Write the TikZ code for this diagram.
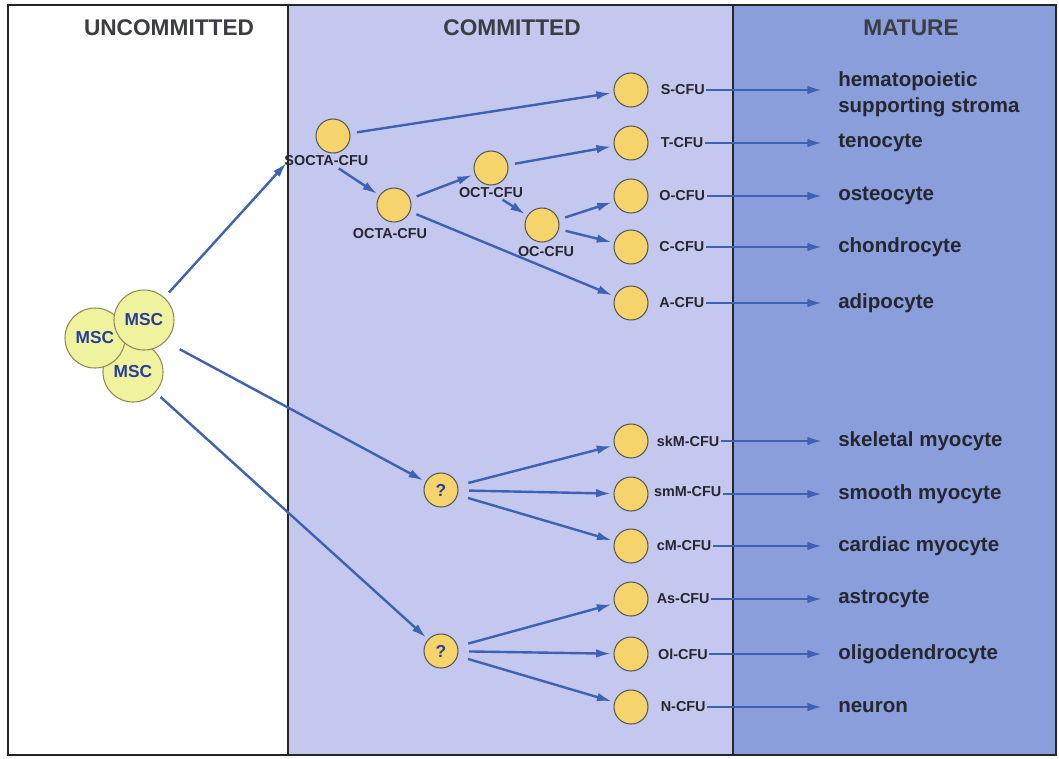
\documentclass[tikz,border=0pt]{standalone}
\usepackage{fontspec}
\setmainfont{Liberation Sans}
\usetikzlibrary{arrows.meta,positioning}
\definecolor{commitbg}{HTML}{C4C8EE}
\definecolor{maturebg}{HTML}{8A9EDC}
\definecolor{cellfill}{HTML}{F6D46C}
\definecolor{mscfill}{HTML}{EFF39E}
\definecolor{flowblue}{HTML}{3D62B4}
\definecolor{inkgray}{HTML}{26262F}
\definecolor{mscblue}{HTML}{2A3D9C}
\tikzset{>=latex}
\tikzset{
  cell/.style={circle, draw=gray!70!black, fill=cellfill, line width=0.8pt, minimum size=25.5pt, inner sep=0pt},
  msc/.style={circle, draw=gray!60!olive, fill=mscfill, line width=0.8pt, minimum size=45pt, inner sep=0pt,
    text=mscblue, font=\bfseries\fontsize{13}{13}\selectfont},
  cfu/.style={font=\bfseries\fontsize{10.8}{11}\selectfont, text=inkgray, inner sep=1pt, anchor=west},
  fate/.style={font=\bfseries\fontsize{15.4}{19.5}\selectfont, text=inkgray, inner sep=0pt, anchor=west, align=left},
  head/.style={font=\bfseries\fontsize{17}{17}\selectfont, text=inkgray!90},
  flow/.style={draw=flowblue, line width=1.8pt, -{Latex[length=11pt,width=6.5pt]}, shorten <=5pt, shorten >=2pt},
  fatelink/.style={flow, shorten <=0pt, shorten >=12pt},
}

\begin{document}
\begin{tikzpicture}[x=0.75pt,y=-0.75pt]
    \useasboundingbox (0,0) rectangle (1059,758);
    % panels
    \fill[white] (0,0) rectangle (1059,758);
    \fill[commitbg] (288,5) rectangle (733,755);
    \fill[maturebg] (733,5) rectangle (1056,755);
    \draw[line width=1.2pt, gray!30!black] (8,5) rectangle (1056,755);
    \draw[line width=1.2pt, gray!30!black] (288,5) -- (288,755);
    \draw[line width=1.2pt, gray!30!black] (733,5) -- (733,755);
    \node[head] (hU) at (169,28) {UNCOMMITTED};
    \node[head] (hC) at (512,28) {COMMITTED};
    \node[head] (hM) at (911,28) {MATURE};

    % stem cells
    \node[msc] (M3) at (133,372) {MSC};
    \node[msc] (M1) at (95,338) {MSC};
    \node[msc] (M2) at (144,320) {MSC};

    % progenitors
    \node[cell] (SOCTA) at (333,136) {};
    \node[cfu, below=0pt of SOCTA, xshift=-5pt] (SOCTAl) {SOCTA-CFU};
    \node[cell] (OCTA) at (394,205) {};
    \node[cfu, below=3pt of OCTA, xshift=-3pt] (OCTAl) {OCTA-CFU};
    \node[cell] (OCT) at (491,168) {};
    \node[cfu, below=0pt of OCT] (OCTl) {OCT-CFU};
    \node[cell] (OC) at (542,225) {};
    \node[cfu, below=2pt of OC, xshift=3pt] (OCl) {OC-CFU};
    \node[cell, font=\bfseries\fontsize{13}{13}\selectfont, text=mscblue] (Q1) at (441,490) {?};
    \node[cell, font=\bfseries\fontsize{13}{13}\selectfont, text=mscblue] (Q2) at (441,651) {?};

    % committed column
    \node[cell] (S) at (631,90) {};
    \node[cfu, right=8pt of S] (Sl) {S-CFU};
    \node[cell] (T) at (631,143) {};
    \node[cfu, right=8pt of T] (Tl) {T-CFU};
    \node[cell] (O) at (631,196) {};
    \node[cfu, right=7pt of O] (Ol) {O-CFU};
    \node[cell] (C) at (631,247) {};
    \node[cfu, right=7pt of C] (Cl) {C-CFU};
    \node[cell] (A) at (631,303) {};
    \node[cfu, right=7pt of A] (Al) {A-CFU};
    \node[cell] (skM) at (631,441) {};
    \node[cfu, right=5pt of skM] (skMl) {skM-CFU};
    \node[cell] (smM) at (631,494) {};
    \node[cfu, right=3pt of smM, yshift=2pt] (smMl) {smM-CFU};
    \node[cell] (cM) at (631,546) {};
    \node[cfu, right=5pt of cM] (cMl) {cM-CFU};
    \node[cell] (As) at (631,599) {};
    \node[cfu, right=5pt of As] (Asl) {As-CFU};
    \node[cell] (Olg) at (631,654) {};
    \node[cfu, right=6pt of Olg] (Olgl) {Ol-CFU};
    \node[cell] (N) at (631,707) {};
    \node[cfu, right=8pt of N] (Nl) {N-CFU};

    % mature cells
    \node[fate] (Sf) at (838,94) {hematopoietic\\supporting stroma};
    \node[fate] (Tf) at (838,143) {tenocyte};
    \node[fate] (Of) at (838,196) {osteocyte};
    \node[fate] (Cf) at (838,247) {chondrocyte};
    \node[fate] (Af) at (838,303) {adipocyte};
    \node[fate] (skMf) at (838,441) {skeletal myocyte};
    \node[fate] (smMf) at (838,494) {smooth myocyte};
    \node[fate] (cMf) at (838,546) {cardiac myocyte};
    \node[fate] (Asf) at (838,599) {astrocyte};
    \node[fate] (Olgf) at (838,654) {oligodendrocyte};
    \node[fate] (Nf) at (838,707) {neuron};

    % lineage arrows
    \draw[flow, shorten >=-4pt] (M2) -- (SOCTAl.south west);
    \draw[flow, shorten <=12pt] (M2.south east) -- (Q1);
    \draw[flow] (M3) -- (Q2);
    \draw[flow] (SOCTA) -- (S);
    \draw[flow, shorten <=2pt] (SOCTAl) -- (OCTA);
    \draw[flow] (OCTA) -- (OCT);
    \draw[flow] (OCTA) -- (A);
    \draw[flow] (OCT) -- (T);
    \draw[flow, shorten <=1pt] (OCTl) -- (OC);
    \draw[flow] (OC) -- (O);
    \draw[flow] (OC) -- (C);
    \draw[flow, shorten <=8pt] (Q1) -- (skM);
    \draw[flow, shorten <=8pt] (Q1) -- (smM);
    \draw[flow, shorten <=8pt] (Q1) -- (cM);
    \draw[flow, shorten <=8pt] (Q2) -- (As);
    \draw[flow, shorten <=8pt] (Q2) -- (Olg);
    \draw[flow, shorten <=8pt] (Q2) -- (N);

    % maturation arrows
    \draw[fatelink] (Sl) -- (Sf.west |- Sl);
    \draw[fatelink] (Tl) -- (Tf);
    \draw[fatelink] (Ol) -- (Of);
    \draw[fatelink] (Cl) -- (Cf);
    \draw[fatelink] (Al) -- (Af);
    \draw[fatelink] (skMl) -- (skMf);
    \draw[fatelink] (smMl.east |- smM) -- (smMf);
    \draw[fatelink] (cMl) -- (cMf);
    \draw[fatelink] (Asl) -- (Asf);
    \draw[fatelink] (Olgl) -- (Olgf);
    \draw[fatelink] (Nl) -- (Nf);
  \end{tikzpicture}
\end{document}
